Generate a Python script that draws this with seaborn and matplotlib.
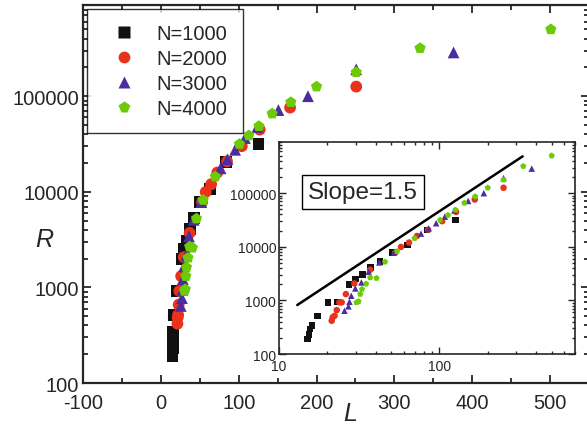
import numpy as np
import pandas as pd
import matplotlib
matplotlib.use("Agg")
import matplotlib.pyplot as plt
import matplotlib.ticker as mticker
import seaborn as sns

# ---------- data ----------
L_1000 = [15.0, 15.4, 15.6, 16.1, 17.4, 20.2, 23.2, 27.4, 29.9, 33.1, 37.2, 42.7, 50.8, 63.4, 83.6, 125.5]
R_1000 = [190, 233, 293, 342, 516, 918, 930, 2000, 2500, 3050, 4100, 5300, 7800, 10700, 20400, 31600]

L_2000 = [21.3, 21.6, 22.2, 22.9, 23.8, 24.6, 26.1, 29.5, 37.0, 53, 57.6, 64.6, 72.5, 85, 104, 127, 166, 251]
R_2000 = [417, 482, 516, 659, 918, 918, 1310, 2070, 3720, 7800, 9950, 12000, 15900, 20800, 30000, 44700, 76000, 126000]

L_3000 = [25.6, 27.1, 27.5, 28.2, 29.9, 32.6, 36.2, 42.2, 52, 76.7, 85.6, 95.4, 108, 124, 151, 189, 251, 376]
R_3000 = [640, 773, 942, 1220, 1670, 2160, 3410, 5100, 7800, 17600, 21900, 27500, 36500, 47700, 71600, 100000, 191000, 287000]

L_4000 = [30.4, 31.3, 32.1, 32.9, 34.9, 37, 40.5, 45.8, 54.4, 70, 101, 113, 126, 143, 167, 200, 251, 333, 501]
R_4000 = [918, 955, 1310, 1620, 2040, 2670, 2600, 5240, 8200, 14400, 31600, 38800, 48600, 65700, 86500, 126000, 178000, 318000, 500000]

slope_L = [13, 330]
slope_R = [820, 486000]

labels = ["N=1000", "N=2000", "N=3000", "N=4000"]
colors = ["#111111", "#E8321C", "#4B2DA0", "#6CCB06"]
markers = ["s", "o", "^", "p"]

frames = []
for lab, L, R in zip(labels, [L_1000, L_2000, L_3000, L_4000], [R_1000, R_2000, R_3000, R_4000]):
    frames.append(pd.DataFrame({"L": L, "R": R, "N": lab}))
df = pd.concat(frames, ignore_index=True)

palette = dict(zip(labels, colors))
marker_map = dict(zip(labels, markers))

sns.set_style("ticks")
plt.rcParams["font.family"] = ["Liberation Sans", "DejaVu Sans"]
plt.rcParams["axes.unicode_minus"] = False

fig = plt.figure(figsize=(5.87, 4.27), dpi=100)
ax = fig.add_axes([0.1414, 0.1007, 0.8620, 0.8853])

sns.scatterplot(data=df, x="L", y="R", hue="N", style="N", palette=palette,
                markers=marker_map, s=72, edgecolor="none", ax=ax, zorder=3)
ax.set_yscale("log")
ax.set_xlim(-100, 550)
ax.set_ylim(100, 9e5)
ax.set_xticks([-100, 0, 100, 200, 300, 400, 500])
ax.xaxis.set_minor_locator(mticker.MultipleLocator(50))
ax.yaxis.set_major_formatter(mticker.FuncFormatter(lambda v, p: f"{int(v)}"))
ax.yaxis.set_minor_formatter(mticker.NullFormatter())
ax.tick_params(which="both", direction="in", top=True, right=True, labelsize=14.5, width=1.3)
ax.tick_params(which="major", length=6)
ax.tick_params(which="minor", length=3.5)
ax.tick_params(axis="x", which="major", pad=7)
ax.tick_params(axis="y", which="major", pad=3)
for sp in ax.spines.values():
    sp.set_linewidth(1.6)
ax.set_xlabel("L", fontsize=18, style="italic")
ax.set_ylabel("R", fontsize=18, style="italic", rotation=0, ha="center", va="center")
ax.xaxis.set_label_coords(0.528, -0.048)
ax.yaxis.set_label_coords(-0.077, 0.381)

handles, _ = ax.get_legend_handles_labels()
leg = ax.legend(handles[-4:], labels, loc="upper left", bbox_to_anchor=(0.008, 0.989),
                borderaxespad=0, fontsize=14.5, frameon=True, fancybox=False, edgecolor="black",
                handletextpad=0.5, handlelength=2.2, borderpad=0.75, labelspacing=0.3)
leg.get_frame().set_linewidth(1.0)

# ---------- inset ----------
axin = fig.add_axes([0.4753, 0.1686, 0.5043, 0.4965])
sns.scatterplot(data=df, x="L", y="R", hue="N", style="N", palette=palette,
                markers=marker_map, s=22, edgecolor="none", ax=axin, legend=False, zorder=3)
sns.lineplot(x=slope_L, y=slope_R, color="black", linewidth=1.8, ax=axin)
axin.set_xscale("log")
axin.set_yscale("log")
axin.set_xlim(10, 700)
axin.set_ylim(100, 9e5)
axin.set_xlabel("")
axin.set_ylabel("")
axin.xaxis.set_major_formatter(mticker.FuncFormatter(lambda v, p: f"{int(v)}"))
axin.yaxis.set_major_formatter(mticker.FuncFormatter(lambda v, p: f"{int(v)}"))
axin.xaxis.set_minor_formatter(mticker.NullFormatter())
axin.yaxis.set_minor_formatter(mticker.NullFormatter())
axin.tick_params(which="both", direction="in", top=True, right=True, labelsize=10, width=1.0)
axin.tick_params(which="major", length=5, pad=2)
axin.tick_params(axis="x", which="major", pad=3.5)
axin.tick_params(which="minor", length=2.5)
for sp in axin.spines.values():
    sp.set_linewidth(1.2)
axin.text(0.284, 0.764, "Slope=1.5", transform=axin.transAxes, fontsize=17.5,
          ha="center", va="center",
          bbox=dict(boxstyle="square,pad=0.25", facecolor="white", edgecolor="black", linewidth=1.0))

fig.savefig("out.png", dpi=100)
